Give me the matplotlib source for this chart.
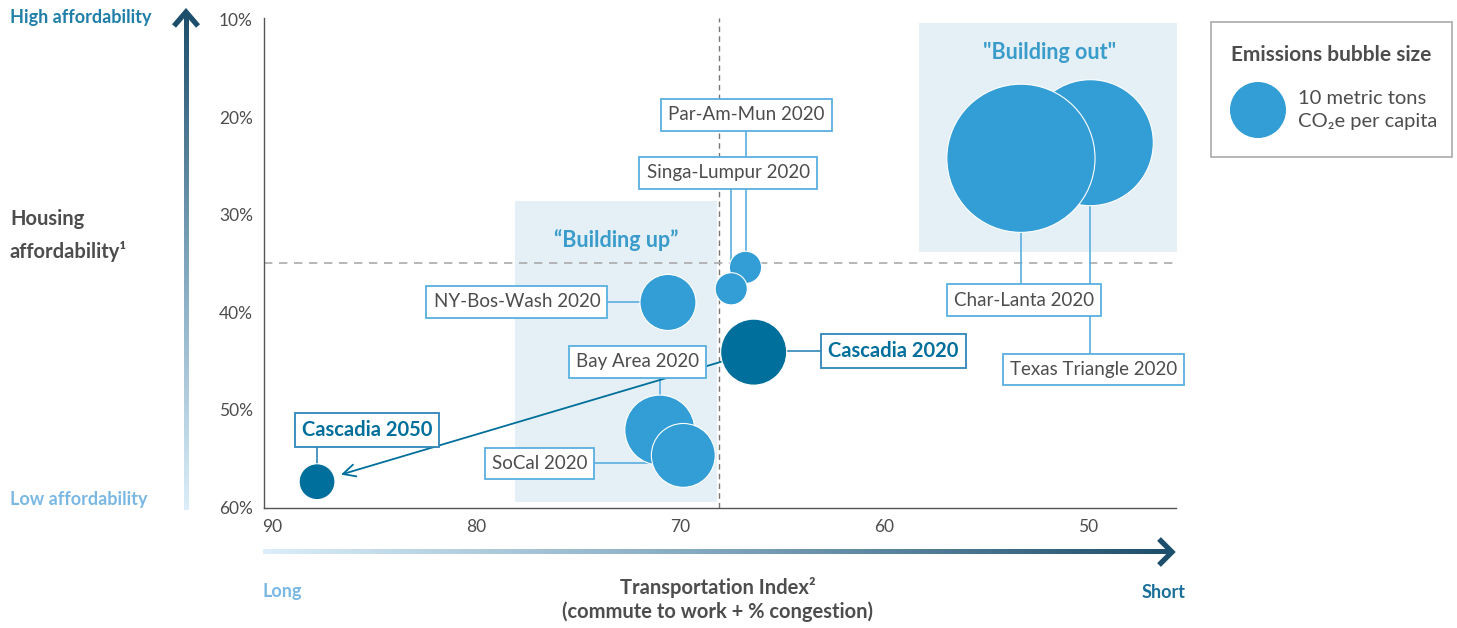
import numpy as np
import matplotlib
matplotlib.use('Agg')
import matplotlib.pyplot as plt
from matplotlib.colors import LinearSegmentedColormap

plt.rcParams['font.family'] = ['Lato', 'DejaVu Sans']

# data
regions = ['Texas Triangle 2020', 'Char-Lanta 2020', 'Bay Area 2020', 'SoCal 2020',
           'NY-Bos-Wash 2020', 'Par-Am-Mun 2020', 'Singa-Lumpur 2020',
           'Cascadia 2020', 'Cascadia 2050']
transport_index = [49.9, 53.3, 71.0, 69.85, 70.6, 66.8, 67.5, 66.4, 87.8]
affordability = [22.6, 24.2, 52.1, 54.7, 39.0, 35.4, 37.6, 44.1, 57.4]
emissions = [50.6, 70.0, 15.6, 13.0, 10.0, 3.3, 3.3, 13.9, 4.1]
is_cascadia = [False, False, False, False, False, False, False, True, True]

# label layout (x, y, connector direction)
label_pos = {
    'Texas Triangle 2020': (49.75, 45.9, 'v'),
    'Char-Lanta 2020': (53.15, 38.75, 'v'),
    'Bay Area 2020': (72.1, 45.1, 'v'),
    'SoCal 2020': (76.9, 55.5, 'h'),
    'NY-Bos-Wash 2020': (78.0, 38.95, 'h'),
    'Par-Am-Mun 2020': (66.76, 19.75, 'v'),
    'Singa-Lumpur 2020': (67.65, 25.7, 'v'),
    'Cascadia 2020': (59.55, 44.0, 'h'),
    'Cascadia 2050': (85.35, 52.1, 'v'),
}

x_ticks = [90, 80, 70, 60, 50]
y_ticks = [10, 20, 30, 40, 50, 60]
legend_tons = 10

LIGHT = '#339dd6'
DARK = '#006f9b'
BOXEDGE = '#5aafe0'
GRAY = '#4d4d4d'
SHADE = '#e4f0f5'
S_PER_TON = 162.6  # marker area (pt^2) per tonne

fig = plt.figure(figsize=(14.57, 6.28), dpi=100)
ax = fig.add_axes([264/1457, 1-508/628, (1176-264)/1457, (508-18)/628])
ax.set_xlim(90.4, 45.7)
ax.set_ylim(60.1, 9.8)

# shaded zones
ax.fill_between([78.1, 68.2], 28.6, 59.5, color=SHADE, lw=0, zorder=0)
ax.fill_between([58.3, 45.6], 10.3, 33.8, color=SHADE, lw=0, zorder=0)
ax.text(73.15, 32.6, '\u201cBuilding up\u201d', ha='center', va='center', fontsize=15.5,
        fontweight='bold', color='#3a9ccb', zorder=1)
ax.text(51.9, 13.3, '"Building out"', ha='center', va='center', fontsize=15.5,
        fontweight='bold', color='#3a9ccb', zorder=1)

# quadrant dashed lines
ax.axvline(68.1, color='#777777', lw=1, ls=(0, (4, 3)), zorder=1)
ax.axhline(35, color='#aaaaaa', lw=1.2, ls=(0, (5, 4)), zorder=1)

# leader lines and labels
for name, x, y, casc in zip(regions, transport_index, affordability, is_cascadia):
    lx, ly, d = label_pos[name]
    lc = '#2f86b8' if casc else BOXEDGE
    if d == 'v':
        ax.plot([x, x], [ly, y], color=lc, lw=1.2, zorder=2)
    else:
        ax.plot([lx, x], [ly, ly], color=lc, lw=1.2, zorder=2)
    ax.text(lx, ly, name, ha='center', va='center', fontsize=14.5 if casc else 13.5,
            color=DARK if casc else GRAY, fontweight='bold' if casc else 'normal',
            bbox=dict(boxstyle='square,pad=0.36' if casc else 'square,pad=0.38', fc='white',
                      ec='#2f86b8' if casc else BOXEDGE, lw=1.3), zorder=5)

# Cascadia 2020 -> 2050 arrow
ax.annotate('', xy=(transport_index[8], affordability[8]),
            xytext=(transport_index[7], affordability[7]),
            arrowprops=dict(arrowstyle='->', color=DARK, lw=1.3, shrinkA=0, shrinkB=18,
                            mutation_scale=22), zorder=2)

# bubbles
colors = [DARK if c else LIGHT for c in is_cascadia]
ax.scatter(transport_index, affordability, s=np.array(emissions) * S_PER_TON,
           c=colors, edgecolors='white', linewidths=0.8, zorder=3)

# axes styling
ax.set_xticks(x_ticks)
ax.set_yticks(y_ticks)
ax.set_yticklabels(['%d%%' % v for v in y_ticks])
ax.tick_params(length=0, labelsize=12.5, labelcolor=GRAY, pad=8)
for s in ['top', 'right']:
    ax.spines[s].set_visible(False)
for s in ['left', 'bottom']:
    ax.spines[s].set_color('#555555')
    ax.spines[s].set_linewidth(1)

# overlay in pixel coordinates for arrows, axis titles and legend
ov = fig.add_axes([0, 0, 1, 1])
ov.set_xlim(0, 1457)
ov.set_ylim(628, 0)
ov.axis('off')

cmap = LinearSegmentedColormap.from_list('grad', ['#dbeef9', '#7fa6bd', '#1d4e6b'])
grad = np.linspace(0, 1, 256)
# vertical arrow shaft (bottom light -> top dark)
ov.imshow(grad[::-1].reshape(-1, 1), cmap=cmap, extent=(183.5, 188.5, 510, 14),
          aspect='auto', interpolation='bilinear')
ov.plot([174, 186, 198], [26, 12, 26], color='#1d4e6b', lw=3.8, solid_joinstyle='miter',
        solid_capstyle='butt')
# horizontal arrow shaft (left light -> right dark)
ov.imshow(grad.reshape(1, -1), cmap=cmap, extent=(263, 1170, 554.5, 549.5),
          aspect='auto', interpolation='bilinear')
ov.plot([1159, 1172, 1159], [539, 552, 565], color='#1d4e6b', lw=3.8, solid_joinstyle='miter',
        solid_capstyle='butt')
ov.set_xlim(0, 1457)
ov.set_ylim(628, 0)

ov.text(10, 18, 'High affordability', ha='left', va='center', fontsize=13,
        fontweight='bold', color='#1f7fa8')
ov.text(10, 500, 'Low affordability', ha='left', va='center', fontsize=13,
        fontweight='bold', color='#7ab8e3')
ov.text(10, 219, 'Housing', ha='left', va='center', fontsize=14.5, fontweight='bold', color=GRAY)
ov.text(10, 251, 'affordability\u00b9', ha='left', va='center', fontsize=14.5,
        fontweight='bold', color=GRAY)
ov.text(718, 588, 'Transportation Index\u00b2', ha='center', va='center', fontsize=14.5,
        fontweight='bold', color=GRAY)
ov.text(718, 612, '(commute to work + % congestion)', ha='center', va='center', fontsize=14.5,
        fontweight='bold', color=GRAY)
ov.text(262, 592, 'Long', ha='left', va='center', fontsize=13, fontweight='bold', color='#7ab8e3')
ov.text(1186, 592, 'Short', ha='right', va='center', fontsize=13, fontweight='bold',
        color='#1a6f99')

# legend
ov.add_patch(plt.Rectangle((1211, 22), 241, 135, fc='white', ec='#aaaaaa', lw=1.2))
ov.text(1331, 55, 'Emissions bubble size', ha='center', va='center', fontsize=15,
        fontweight='bold', color=GRAY)
ov.scatter([1258], [110], s=legend_tons * S_PER_TON, c=LIGHT, edgecolors='none')
ov.text(1298, 98, '10 metric tons', ha='left', va='center', fontsize=14.5, color=GRAY)
ov.text(1298, 122, 'CO\u2082e per capita', ha='left', va='center', fontsize=14.5, color=GRAY)

fig.savefig('out.png', dpi=100)
